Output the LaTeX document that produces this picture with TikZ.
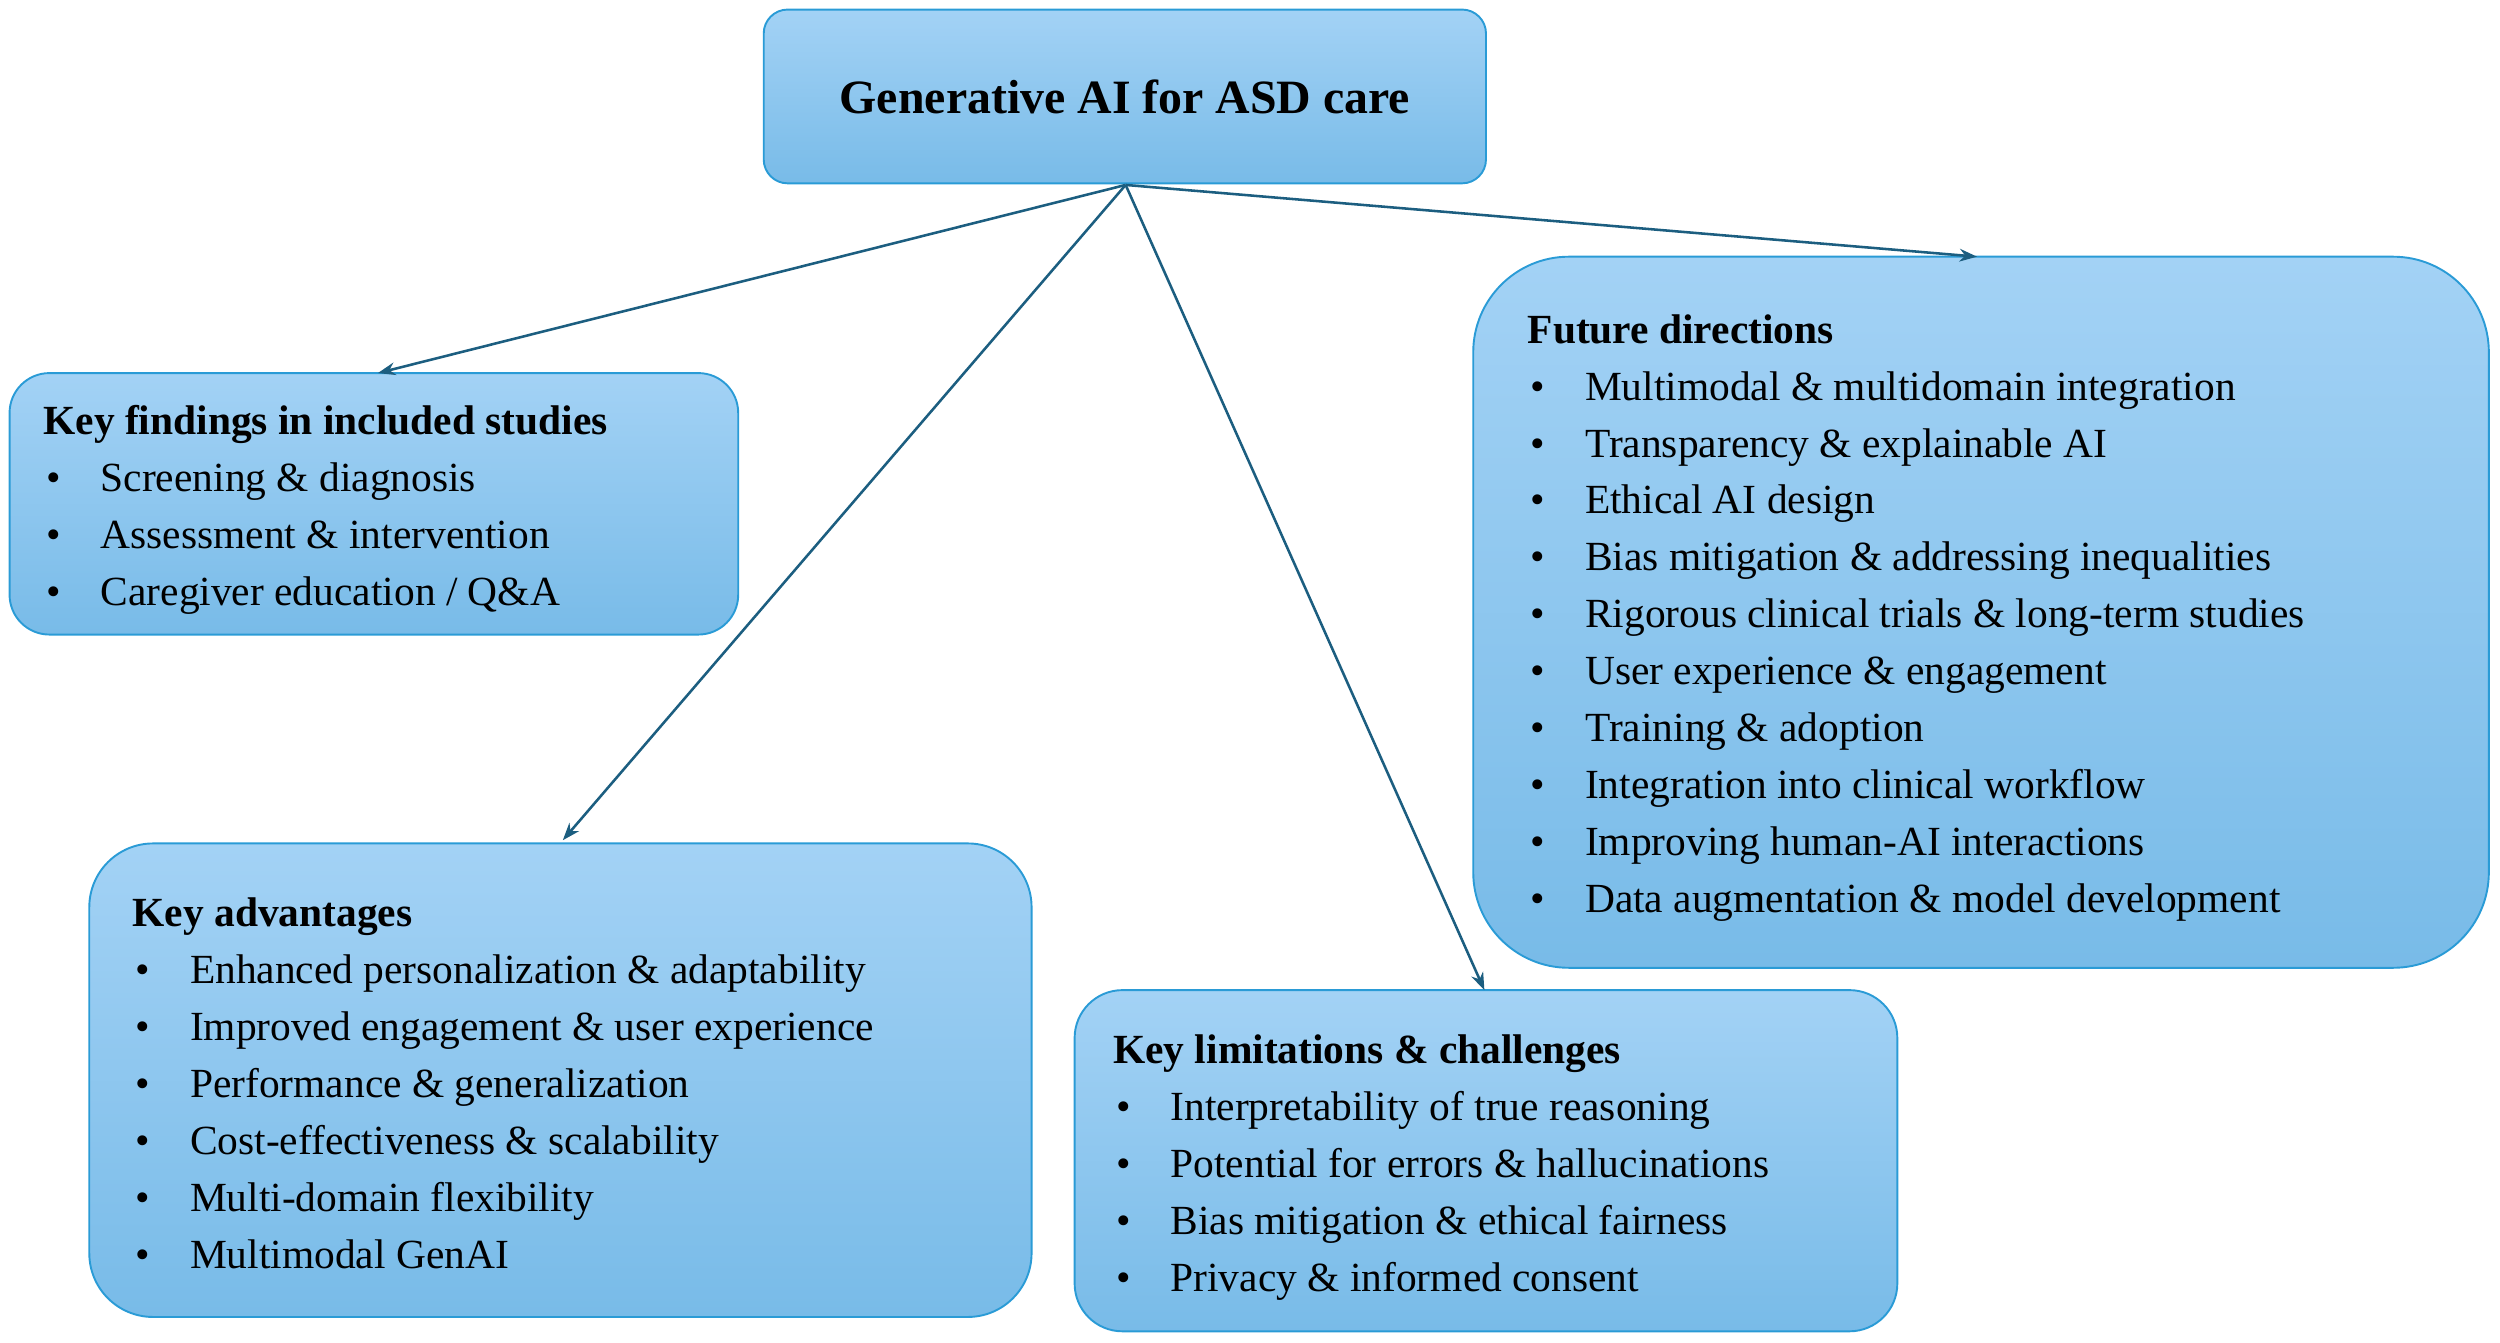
\documentclass[tikz,border=0pt]{standalone}
\usepackage{fontspec}
\setmainfont{Liberation Serif}
\usetikzlibrary{arrows.meta}
\definecolor{bfill1}{HTML}{A3D2F5}
\definecolor{bfill2}{HTML}{78BBE8}
\definecolor{bdraw}{HTML}{2A9BD6}
\definecolor{arr}{HTML}{1C5E80}
\newcommand{\bl}[1]{\makebox[36pt][l]{\hspace{2pt}•}#1}
\tikzset{
  box/.style={draw=bdraw, line width=1.2pt, top color=bfill1, bottom color=bfill2},
  txt/.style={anchor=north west, inner sep=0pt, align=left, font=\fontsize{26}{35.7}\selectfont},
  conn/.style={draw=arr, line width=1.6pt, -{Stealth[length=11pt,width=8pt]}}
}
\begin{document}
\begin{tikzpicture}[x=1pt,y=-1pt]
\useasboundingbox (0,0) rectangle (1568,842);
\node[box, rounded corners=15pt, minimum width=453pt, minimum height=109pt, font=\fontsize{30}{36}\selectfont\bfseries] (title) at (705.5,60.5) {Generative AI for ASD care};
\draw[box, rounded corners=25pt] (6,234) rectangle (463,398);
\draw[box, rounded corners=40pt] (56,529) rectangle (647,826);
\draw[box, rounded corners=30pt] (674,621) rectangle (1190,835);
\draw[box, rounded corners=60pt] (924,161) rectangle (1561,607);
\coordinate (src) at (706,116);
\coordinate (f) at (237,234);
\coordinate (a) at (353,527);
\coordinate (l) at (931,621);
\coordinate (d) at (1240,161);
\draw[conn] (src) -- (f);
\draw[conn] (src) -- (a);
\draw[conn] (src) -- (l);
\draw[conn] (src) -- (d);
\node[txt] (ft) at (27,254) {\textbf{Key findings in included studies}\\
\bl{Screening \& diagnosis}\\
\bl{Assessment \& intervention}\\
\bl{Caregiver education / Q\&A}};
\node[txt] (at) at (83,563) {\textbf{Key advantages}\\
\bl{Enhanced personalization \& adaptability}\\
\bl{Improved engagement \& user experience}\\
\bl{Performance \& generalization}\\
\bl{Cost-effectiveness \& scalability}\\
\bl{Multi-domain flexibility}\\
\bl{Multimodal GenAI}};
\node[txt] (lt) at (698,649) {\textbf{Key limitations \& challenges}\\
\bl{Interpretability of true reasoning}\\
\bl{Potential for errors \& hallucinations}\\
\bl{Bias mitigation \& ethical fairness}\\
\bl{Privacy \& informed consent}};
\node[txt] (dt) at (958,197) {\textbf{Future directions}\\
\bl{Multimodal \& multidomain integration}\\
\bl{Transparency \& explainable AI}\\
\bl{Ethical AI design}\\
\bl{Bias mitigation \& addressing inequalities}\\
\bl{Rigorous clinical trials \& long-term studies}\\
\bl{User experience \& engagement}\\
\bl{Training \& adoption}\\
\bl{Integration into clinical workflow}\\
\bl{Improving human-AI interactions}\\
\bl{Data augmentation \& model development}};
\end{tikzpicture}
\end{document}
